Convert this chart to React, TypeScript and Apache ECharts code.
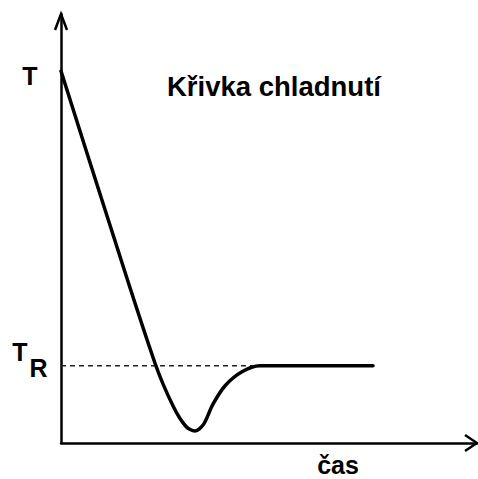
import React, { useEffect, useRef } from "react";
import * as echarts from "echarts";

// Cooling curve: time (arbitrary units) vs temperature (arbitrary units)
const timeValues = [0, 11.3, 22.6, 27, 30, 32.2, 34.3, 36.5, 39.5, 43.5, 47.8, 75];
const tempValues = [86.7, 52.2, 18.6, 8.5, 3.9, 2.8, 4.4, 9, 13.4, 16.6, 18, 18];
const tR = 18;
const tRLineEnd = 47.8;

const titleText = "Křivka chladnutí";
const yLabel = "T";
const yRefLabel = "T";
const yRefSub = "R";
const xLabel = "čas";

const FONT = '"Liberation Sans", Arial, sans-serif';

export default function App() {
  const ref = useRef<HTMLDivElement>(null);
  useEffect(() => {
    if (!ref.current) return;
    const chart = echarts.init(ref.current, null, { renderer: "svg" });
    const curve = timeValues.map((t, i) => [t, tempValues[i]]);
    const txt = (text: string, x: number, y: number, size: number, align = "center") => ({
      type: "text",
      x,
      y,
      style: {
        text,
        fill: "#000",
        font: `bold ${size}px ${FONT}`,
        textAlign: align,
        textVerticalAlign: "middle",
      },
    });
    chart.setOption({
      animation: false,
      backgroundColor: "#fff",
      grid: { left: 61, right: 1, top: 14, bottom: 36 },
      xAxis: {
        type: "value",
        min: 0,
        max: 100,
        axisLine: { show: true, onZero: false, lineStyle: { color: "#000", width: 2.5 } },
        axisTick: { show: false },
        axisLabel: { show: false },
        splitLine: { show: false },
      },
      yAxis: {
        type: "value",
        min: 0,
        max: 100,
        axisLine: { show: true, onZero: false, lineStyle: { color: "#000", width: 2.5 } },
        axisTick: { show: false },
        axisLabel: { show: false },
        splitLine: { show: false },
      },
      series: [
        {
          type: "line",
          data: [
            [0, tR],
            [tRLineEnd, tR],
          ],
          symbol: "none",
          lineStyle: { color: "#222", width: 1.5, type: [5, 4] },
          z: 1,
        },
        {
          type: "line",
          data: curve,
          symbol: "none",
          smooth: 0.3,
          lineStyle: { color: "#000", width: 3.5, cap: "round", join: "round" },
          z: 2,
        },
      ],
      graphic: [
        {
          type: "polyline",
          shape: { points: [[55, 30], [61, 14], [67, 30]] },
          style: { stroke: "#000", lineWidth: 2.5, fill: "none" },
        },
        {
          type: "polyline",
          shape: { points: [[465, 435], [477, 443], [465, 451]] },
          style: { stroke: "#000", lineWidth: 2.5, fill: "none" },
        },
        txt(titleText, 167, 86, 27.5, "left"),
        txt(yLabel, 30, 76, 25),
        txt(yRefLabel, 20, 352, 25),
        txt(yRefSub, 38.5, 368, 25),
        txt(xLabel, 338, 465, 25),
      ],
    });
    return () => chart.dispose();
  }, []);
  return (
    <div
      ref={ref}
      style={{ position: "fixed", left: 0, top: 0, width: 478, height: 479, background: "#fff" }}
    />
  );
}
